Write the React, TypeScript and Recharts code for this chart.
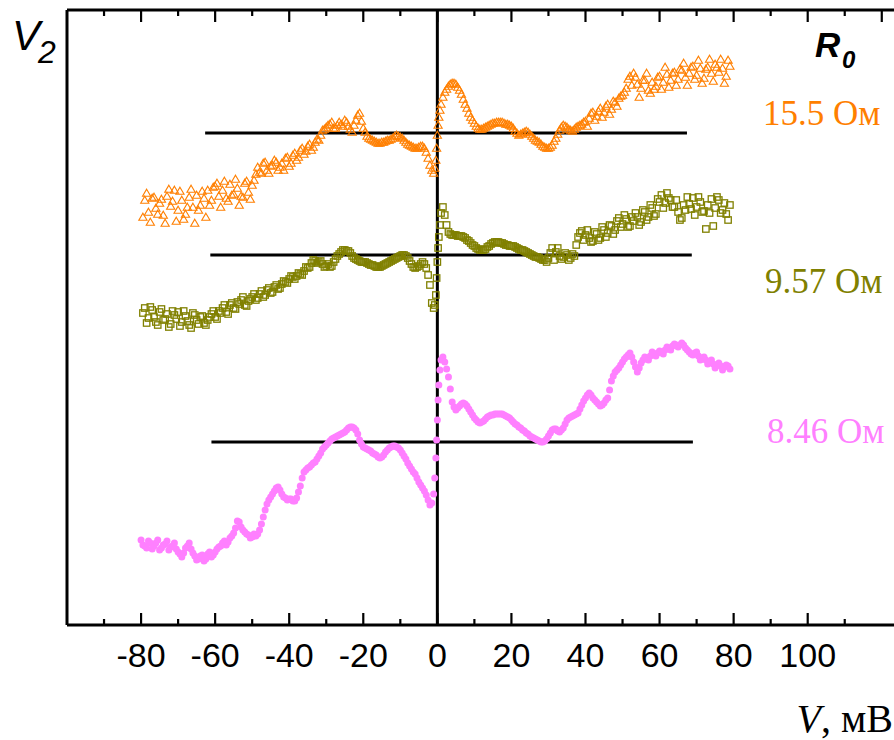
import React from 'react';
import { ScatterChart, Scatter, XAxis, YAxis, ReferenceLine } from 'recharts';

// Bias voltage, mV (first sweep)
const voltages = [
  -80, -79, -78, -77, -76, -75, -74, -73, -72, -71,
  -70, -69, -68, -67, -66, -65, -64, -63, -62, -61,
  -60, -59, -58, -57, -56, -55, -54, -53, -52, -51,
  -50, -49, -48, -47, -46, -45, -44, -43, -42, -41,
  -40, -39, -38, -37, -36, -35, -34, -33, -32, -31,
  -30, -29, -28, -27, -26, -25, -24, -23, -22, -21,
  -20, -19, -18, -17, -16, -15, -14, -13, -12, -11,
  -10, -9, -8, -7, -6, -5, -4, -3, -2,
  -1.5, -1, -0.7, -0.4, -0.2, 0, 0.2, 0.4, 0.7, 1, 1.5,
  2, 3, 4, 5, 6, 7, 8, 9,
  10, 11, 12, 13, 14, 15, 16, 17, 18, 19,
  20, 21, 22, 23, 24, 25, 26, 27, 28, 29,
  30, 31, 32, 33, 34, 35, 36, 37, 38, 39,
  40, 41, 42, 43, 44, 45, 46, 47, 48, 49,
  50, 51, 52, 53, 54, 55, 56, 57, 58, 59,
  60, 61, 62, 63, 64, 65, 66, 67, 68, 69,
  70, 71, 72, 73, 74, 75, 76, 77, 78, 79,
];

// Bias voltage, mV (second sweep, interleaved)
const voltagesB = [
  -79.5, -78.5, -77.5, -76.5, -75.5, -74.5, -73.5, -72.5, -71.5, -70.5,
  -69.5, -68.5, -67.5, -66.5, -65.5, -64.5, -63.5, -62.5, -61.5, -60.5,
  -59.5, -58.5, -57.5, -56.5, -55.5, -54.5, -53.5, -52.5, -51.5, -50.5,
  -49.5, -48.5, -47.5, -46.5, -45.5, -44.5, -43.5, -42.5, -41.5, -40.5,
  -39.5, -38.5, -37.5, -36.5, -35.5, -34.5, -33.5, -32.5, -31.5, -30.5,
  -29.5, -28.5, -27.5, -26.5, -25.5, -24.5, -23.5, -22.5, -21.5, -20.5,
  -19.5, -18.5, -17.5, -16.5, -15.5, -14.5, -13.5, -12.5, -11.5, -10.5,
  -9.5, -8.5, -7.5, -6.5, -5.5, -4.5, -3.5, -2.5,
  2.5, 3.5, 4.5, 5.5, 6.5, 7.5, 8.5, 9.5,
  10.5, 11.5, 12.5, 13.5, 14.5, 15.5, 16.5, 17.5, 18.5, 19.5,
  20.5, 21.5, 22.5, 23.5, 24.5, 25.5, 26.5, 27.5, 28.5, 29.5,
  30.5, 31.5, 32.5, 33.5, 34.5, 35.5, 36.5, 37.5, 38.5, 39.5,
  40.5, 41.5, 42.5, 43.5, 44.5, 45.5, 46.5, 47.5, 48.5, 49.5,
  50.5, 51.5, 52.5, 53.5, 54.5, 55.5, 56.5, 57.5, 58.5, 59.5,
  60.5, 61.5, 62.5, 63.5, 64.5, 65.5, 66.5, 67.5, 68.5, 69.5,
  70.5, 71.5, 72.5, 73.5, 74.5, 75.5, 76.5, 77.5, 78.5,
];

// V2 (arb. units), R0 = 15.5 Ohm
const r155 = [
  null, 425, 413, 427, 417, 422, 410, 429, 419, 435,
  415, 425, 411, 428, 418, 430, 420, 427, 435, 425,
  439, 429, 435, 427, 441, 431, 437, 429, 442, 433,
  440, 451, 453, 462, 455, 459, 465, 455, 462, 467,
  459, 470, 465, 475, 471, 479, 475, 483, 485, 495,
  498, 501, 497, 500, 501, 505, 499, 493, 505, 512,
  497, 489, 486, 484, 482, 483, 484, 485, 487, 490,
  488, 485, 481, 479, 477, 478, 479, 473, 460,
  455, 452, 457, 465, 477, 490, 500, 508, 515, 521, 528,
  533, 539, 542, 541, 535, 526, 517, 508,
  502, 497, 496, 498, 500, 502, 503, 503, 502, 501,
  499, 494, 490, 492, 494, 491, 487, 484, 481, 478,
  477, 480, 487, 495, 500, 498, 495, 496, 499, 501,
  504, 507, 513, 509, 517, 513, 521, 516, 523, 527,
  530, 537, 549, 552, 541, 537, 545, 535, 543, 539,
  549, 543, 551, 545, 553, 546, 555, 548, 552, 559,
  550, 557, 547, 558, 552, 561, 553, 557, 549, 559,
];
const r155b = [
  408, 432, 403, 428, 411, 426, 402, 436, 424, 404,
  434, 406, 418, 436, 402, 415, 434, 408, 420, 438,
  442, 418, 444, 424, 430, 446, 420, 428, 444, 426,
  445, 458, 452, 463, 452, 460, 463, 458, 455, 468,
  462, 472, 468, 477, 474, 481, 478, 486, 490, 496,
  500, 503, 497, 503, 499, 503, 496, 500, 510, 504,
  493, 487, 485, 483, 482, 483, 485, 486, 489, 489,
  487, 483, 480, 478, 477, 479, 477, 467,
  536, 541, 542, 538, 531, 521, 512, 505,
  499, 496, 497, 499, 501, 502, 503, 503, 501, 500,
  497, 492, 491, 493, 493, 489, 485, 483, 479, 477,
  478, 484, 491, 498, 499, 496, 494, 498, 500, 503,
  499, 512, 505, 514, 508, 519, 511, 524, 519, 529,
  533, 546, 540, 548, 528, 545, 552, 532, 536, 548,
  536, 558, 538, 552, 540, 556, 562, 540, 558, 546,
  565, 542, 556, 566, 544, 558, 566, 542, 565,
];

// V2 (arb. units), R0 = 9.57 Ohm
const r957 = [
  null, 317, 307, 315, 303, 313, 305, 311, 301, 310,
  313, 303, 309, 300, 312, 305, 308, 302, 305, 311,
  308, 314, 317, 313, 320, 317, 323, 325, 320, 324,
  328, 325, 331, 328, 335, 332, 338, 336, 341, 343,
  346, 348, 349, 351, 354, 357, 362, 364, 363, 361,
  359, 358, 363, 369, 373, 375, 374, 369, 366, 364,
  363, 362, 360, 359, 358, 359, 361, 363, 365, 367,
  369, 370, 367, 361, 357, 359, 363, 357, 340,
  322, 317, 320, 330, 347, 363, 377, 388, 400, 412, 418,
  410, 393, 390, 390, 389, 388, 385, 382,
  379, 376, 375, 376, 379, 382, 383, 382, 381, 380,
  379, 378, 376, 375, 373, 371, 369, 368, 366, 365,
  367, 377, 373, 369, 368, 370, 367, 369, 388, 394,
  390, 387, 384, 391, 387, 395, 392, 399, 395, 407,
  401, 406, 399, 404, 408, 403, 413, 408, 417, 411,
  423, 417, 432, 425, 418, 413, 407, 415, 421, 427,
  418, 423, 414, 420, 426, 417, 425, 415, 411, 420,
];
const r957b = [
  312, 302, 318, 308, 300, 316, 306, 298, 314, 306,
  299, 314, 304, 297, 310, 301, 309, 300, 308, 314,
  306, 312, 320, 311, 322, 316, 321, 328, 319, 326,
  331, 327, 334, 330, 337, 333, 340, 337, 344, 342,
  349, 346, 352, 350, 358, 358, 365, 362, 364, 358,
  361, 359, 366, 371, 375, 374, 372, 367, 365, 363,
  363, 361, 360, 358, 358, 360, 362, 364, 366, 368,
  370, 369, 364, 358, 358, 361, 361, 350,
  400, 391, 390, 389, 389, 387, 384, 380,
  377, 375, 375, 378, 381, 383, 383, 382, 380, 379,
  379, 377, 375, 374, 372, 370, 368, 367, 365, 363,
  372, 365, 377, 366, 372, 365, 371, 380, 392, 385,
  395, 383, 393, 385, 398, 388, 400, 391, 404, 398,
  410, 398, 408, 412, 400, 415, 405, 420, 409, 426,
  430, 422, 427, 418, 425, 405, 420, 428, 416, 410,
  428, 413, 396, 412, 399, 428, 412, 422, 405,
];

// V2 (arb. units), R0 = 8.46 Ohm
const r846 = [
  85, 79, 84, 76, 82, 75, 80, 84, 78, 82,
  73, 68, 77, 82, 72, 65, 69, 64, 71, 68,
  73, 78, 82, 80, 87, 92, 104, 98, 93, 90,
  88, 89, 95, 108, 121, 128, 134, 138, 131, 127,
  126, 124, 127, 139, 153, 157, 160, 163, 169, 176,
  180, 184, 187, 189, 191, 193, 197, 198, 195, 185,
  178, 176, 174, 171, 168, 168, 173, 177, 179, 178,
  175, 169, 162, 156, 151, 143, 137, 130, 120,
  122, 131, 147, 167, 185, 205, 225, 240, 255, 265, 268,
  263, 248, 223, 215, 219, 222, 219, 213,
  207, 203, 203, 206, 209, 210, 211, 211, 210, 208,
  205, 201, 198, 195, 192, 189, 187, 185, 183, 184,
  189, 195, 196, 193, 197, 205, 208, 210, 212, 220,
  227, 232, 227, 223, 219, 222, 227, 244, 253, 257,
  263, 268, 272, 263, 253, 262, 268, 265, 273, 269,
  274, 271, 278, 275, 281, 278, 282, 277, 273, 270,
  273, 265, 268, 261, 265, 257, 262, 255, 260, 256,
];
const r846b = [
  80, 77, 82, 79, 85, 77, 81, 75, 79, 76,
  71, 72, 79, 76, 69, 66, 70, 66, 73, 70,
  76, 79, 84, 83, 89, 97, 103, 95, 91, 87,
  91, 91, 101, 115, 125, 131, 137, 135, 128, 125,
  126, 124, 133, 147, 155, 158, 162, 166, 172, 178,
  182, 186, 188, 190, 192, 195, 198, 197, 191, 181,
  177, 175, 172, 170, 167, 170, 175, 178, 179, 177,
  172, 166, 159, 153, 147, 140, 134, 125,
  256, 236, 218, 217, 221, 221, 216, 210,
  205, 202, 204, 208, 210, 211, 211, 211, 209, 207,
  203, 200, 197, 194, 191, 188, 186, 184, 183, 186,
  192, 196, 194, 195, 201, 207, 209, 211, 216, 224,
  230, 230, 225, 221, 220, 225, 235, 249, 255, 260,
  266, 270, 268, 258, 257, 265, 267, 269, 271, 272,
  273, 275, 277, 279, 280, 280, 280, 275, 271, 272,
  269, 267, 265, 263, 261, 260, 259, 258, 259,
];

// Baselines (level, from, to) for each curve
const baseline155 = { level: 492, from: -62.7, to: 67.4 };
const baseline957 = { level: 370, from: -61.3, to: 68.7 };
const baseline846 = { level: 183, from: -61, to: 69 };

const topTicks = [-90, -80, -70, -60, -50, -40, -30, -20, -10, 0, 10, 20, 30, 40, 50, 60, 70, 80, 90, 100, 110, 120];
const bottomTicks = [-90, -80, -70, -60, -50, -40, -30, -20, -10, 0, 10, 20, 30, 40, 50, 60, 70, 80, 90, 100, 110];
const labeledTicks = [-80, -60, -40, -20, 0, 20, 40, 60, 80, 100];

const ORANGE = '#FF7F00';
const OLIVE = '#808000';
const PINK = '#FF80FF';

const toPoints = (xs: number[], ys: (number | null)[]) =>
  xs.map((v, i) => ({ v, h: ys[i] })).filter((p) => p.h !== null && p.h !== undefined);

const data155 = toPoints(voltages, r155).concat(toPoints(voltagesB, r155b));
const data957 = toPoints(voltages, r957).concat(toPoints(voltagesB, r957b));
const data846 = toPoints(voltages, r846).concat(toPoints(voltagesB, r846b));

const Triangle = (props: any) => {
  const { cx, cy } = props;
  if (cx == null || cy == null) return null;
  return (
    <path
      d={`M${cx},${cy - 3.8}L${cx + 4.1},${cy + 3.2}L${cx - 4.1},${cy + 3.2}Z`}
      fill="none"
      stroke={ORANGE}
      strokeWidth={1.1}
    />
  );
};

const Square = (props: any) => {
  const { cx, cy } = props;
  if (cx == null || cy == null) return null;
  return <rect x={cx - 3.2} y={cy - 3.2} width={6.4} height={6.4} fill="none" stroke={OLIVE} strokeWidth={1.3} />;
};

const Dot = (props: any) => {
  const { cx, cy } = props;
  if (cx == null || cy == null) return null;
  return <circle cx={cx} cy={cy} r={3.5} fill={PINK} />;
};

const BottomTick = (props: any) => {
  const { x, y, payload } = props;
  const v = payload.value;
  const major = v % 20 === 0;
  return (
    <g>
      <line x1={x} x2={x} y1={y} y2={y - (major ? 12 : 6)} stroke="#000" strokeWidth={2.2} />
      {labeledTicks.includes(v) && (
        <text x={x} y={y + 42} textAnchor="middle" fontFamily="'Liberation Sans', Arial, sans-serif" fontSize={34} fill="#000">
          {v}
        </text>
      )}
    </g>
  );
};

const TopTick = (props: any) => {
  const { x, y, payload } = props;
  const v = payload.value;
  const major = v % 20 === 0;
  return <line x1={x} x2={x} y1={y} y2={y + (major ? 12 : 6)} stroke="#000" strokeWidth={2.2} />;
};

const seg = (b: { level: number; from: number; to: number }) => [
  { x: b.from, y: b.level },
  { x: b.to, y: b.level },
];

export default function App() {
  return (
    <div style={{ position: 'absolute', left: 0, top: 0, width: 894, height: 740, overflow: 'hidden', background: '#fff' }}>
      <ScatterChart width={894} height={740} margin={{ top: 9, right: 0, bottom: 114, left: 67 }}>
        <XAxis
          dataKey="v"
          type="number"
          domain={[-100, 123.3]}
          allowDataOverflow
          ticks={bottomTicks}
          interval={0}
          height={1}
          tickSize={0}
          tickMargin={0}
          tickLine={false}
          tick={<BottomTick />}
          axisLine={{ stroke: '#000', strokeWidth: 2.8 }}
        />
        <XAxis
          xAxisId="top"
          orientation="top"
          dataKey="v"
          type="number"
          domain={[-100, 123.3]}
          allowDataOverflow
          ticks={topTicks}
          interval={0}
          height={1}
          tickSize={0}
          tickMargin={0}
          tickLine={false}
          tick={<TopTick />}
          axisLine={{ stroke: '#000', strokeWidth: 2.8 }}
        />
        <YAxis dataKey="h" type="number" domain={[0, 615]} allowDataOverflow hide />
        <Scatter data={data155} shape={<Triangle />} isAnimationActive={false} />
        <Scatter data={data957} shape={<Square />} isAnimationActive={false} />
        <Scatter data={data846} shape={<Dot />} isAnimationActive={false} />
        <ReferenceLine x={-100} stroke="#000" strokeWidth={3} />
        <ReferenceLine x={0} stroke="#000" strokeWidth={3} />
        <ReferenceLine segment={seg(baseline155)} stroke="#000" strokeWidth={3} />
        <ReferenceLine segment={seg(baseline957)} stroke="#000" strokeWidth={3} />
        <ReferenceLine segment={seg(baseline846)} stroke="#000" strokeWidth={3} />
      </ScatterChart>
      <svg width={894} height={740} style={{ position: 'absolute', left: 0, top: 0, pointerEvents: 'none' }}>
        <text x={12} y={50} fontFamily="'Liberation Sans', Arial, sans-serif" fontStyle="italic" fontSize={42} fill="#000">V</text>
        <text x={38} y={63} fontFamily="'Liberation Sans', Arial, sans-serif" fontStyle="italic" fontSize={32} fill="#000">2</text>
        <text x={815} y={57} fontFamily="'Liberation Sans', Arial, sans-serif" fontStyle="italic" fontWeight="bold" fontSize={35} fill="#000">R</text>
        <text x={842} y={68} fontFamily="'Liberation Sans', Arial, sans-serif" fontStyle="italic" fontWeight="bold" fontSize={24} fill="#000">0</text>
        <text x={763} y={125} fontFamily="'Liberation Serif', 'Times New Roman', serif" fontSize={35} fill={ORANGE}>15.5 Ом</text>
        <text x={765} y={293} fontFamily="'Liberation Serif', 'Times New Roman', serif" fontSize={35} fill={OLIVE}>9.57 Ом</text>
        <text x={767} y={443} fontFamily="'Liberation Serif', 'Times New Roman', serif" fontSize={35} fill={PINK}>8.46 Ом</text>
        <text x={893} y={732} textAnchor="end" fontFamily="'Liberation Serif', 'Times New Roman', serif" fontSize={40} fill="#000">
          <tspan fontStyle="italic">V</tspan>, мВ
        </text>
      </svg>
    </div>
  );
}
